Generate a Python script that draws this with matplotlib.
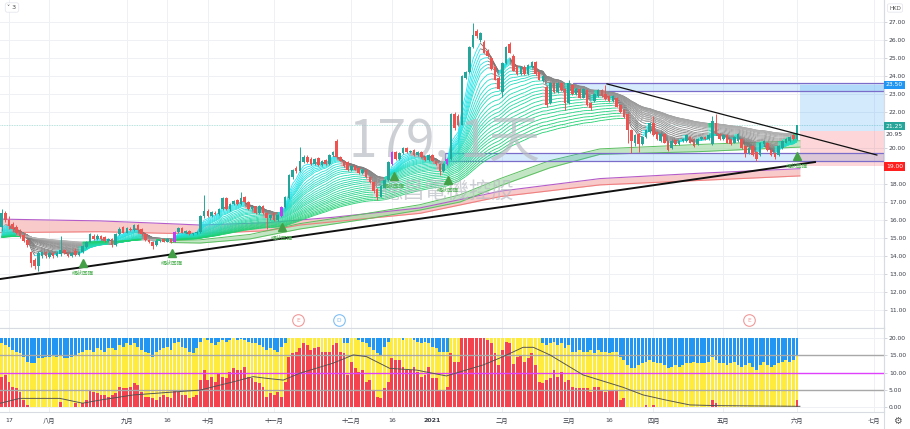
import numpy as np
import matplotlib
matplotlib.use("Agg")
import matplotlib.pyplot as plt
from matplotlib.collections import LineCollection
from matplotlib.patches import Rectangle
from matplotlib.colors import to_rgb

plt.rcParams['font.family'] = ['DejaVu Sans', 'Noto Sans CJK TC']

# ---------------- data (index 0 = 15 Jul 2020, daily bars) ----------------
opens = [15.6, 16.4,
    16.0, 15.8, 15.6, 15.45, 15.15, 14.9, 14.2, 13.8, 13.45, 14.0, 14.2,
    13.95, 14.15, 14.0, 14.1, 14.35, 14.15, 14.0, 14.3, 14.05, 14.2, 14.5, 14.8, 15.1, 14.95, 15.1, 15.05, 14.85, 14.95, 14.6, 15.2, 15.6,
    15.3, 15.5, 15.45, 15.7, 15.5, 15.2, 14.9, 14.8, 14.6, 14.85, 14.95, 14.8, 14.95, 14.8, 15.35, 15.55, 15.3, 15.4, 15.2, 15.25, 15.35, 16.2,
    16.5, 16.2, 16.4, 16.35, 16.6, 17.2, 16.6, 16.9, 17.1, 16.9, 17.3, 17.0, 16.6, 16.75, 16.4, 16.8, 16.4, 16.1,
    16.4, 16.0, 16.2, 16.7, 17.2, 18.4, 18.9, 18.7, 19.2, 19.5, 19.4, 19.1, 19.45, 19.05, 19.35, 19.1, 19.6, 20.4, 19.5, 19.3, 19.2,
    18.75, 19.0, 18.9, 18.6, 18.8, 18.4, 18.1, 17.7, 17.3, 17.8, 18.2, 19.1, 19.8, 19.4, 19.7, 20.0, 19.75, 19.9, 19.6, 19.8, 19.5, 19.35,
    19.6, 19.3, 19.1, 18.7, 19.1, 19.4, 21.9, 21.8, 21.3, 23.9, 24.2, 25.6, 26.5, 26.0, 25.9, 25.4, 25.0, 24.5, 23.9,
    23.1, 24.7, 25.8, 25.1, 24.5, 24.1, 24.5, 24.1, 24.5, 24.8, 24.2, 23.7, 23.4, 22.5, 23.6, 23.1, 23.6, 23.3,
    22.5, 23.5, 23.0, 23.3, 22.8, 23.2, 22.5, 22.6, 22.9, 23.2, 23.0, 22.9, 22.6, 22.8, 22.4, 22.1, 21.9, 21.0, 20.3, 20.8, 20.2, 20.6, 20.9,
    21.4, 20.9, 20.4, 20.8, 20.4, 20.0, 20.45, 20.2, 20.4, 20.4, 20.6, 20.5, 20.2, 20.5, 20.6, 20.5, 20.2, 21.4, 20.8,
    20.5, 20.7, 20.5, 20.3, 20.4, 20.5, 20.1, 19.7, 20.1, 19.8, 19.6, 20.2, 20.3, 19.9, 19.7, 19.6, 20.0, 20.3, 20.4, 20.7,
    20.5]
highs = [16.6, 16.5,
    16.2, 15.9, 15.7, 15.5, 15.25, 14.95, 14.3, 13.9, 14.25, 14.3, 14.3,
    14.25, 14.2, 14.25, 15.1, 14.4, 14.2, 14.2, 14.45, 14.25, 14.6, 14.85, 15.3, 15.2, 15.2, 15.15, 15.1, 15.0, 15.0, 15.25, 15.6, 15.65,
    15.6, 15.6, 15.8, 15.75, 15.55, 15.25, 14.95, 14.85, 14.9, 14.95, 15.0, 15.0, 15.0, 15.4, 15.6, 15.6, 15.45, 15.45, 15.3, 15.4, 16.3, 17.4,
    16.6, 16.5, 16.5, 16.65, 17.3, 17.25, 16.95, 17.1, 17.15, 17.57, 17.35, 17.05, 16.8, 16.8, 16.85, 16.85, 16.45, 16.35,
    16.45, 16.35, 16.75, 17.35, 18.55, 18.85, 19.0, 20.05, 19.6, 19.6, 19.5, 19.45, 19.5, 19.35, 19.4, 19.65, 19.85, 20.5, 19.55, 19.35, 19.25,
    19.05, 19.05, 18.95, 18.85, 18.85, 18.45, 18.15, 17.75, 17.95, 18.25, 19.25, 19.85, 19.85, 19.75, 20.05, 20.05, 19.9, 19.95, 19.85, 19.85, 19.55, 19.65,
    19.65, 19.35, 19.15, 19.15, 19.45, 21.95, 22.0, 21.9, 24.05, 24.3, 25.65, 26.93, 26.6, 26.45, 26.0, 25.5, 25.1, 24.6, 24.0,
    24.75, 25.65, 25.9, 25.2, 24.6, 24.55, 24.6, 24.65, 24.85, 24.85, 24.25, 24.05, 23.5, 23.65, 23.65, 23.65, 23.65, 23.35,
    23.8, 23.55, 23.35, 23.35, 23.35, 23.25, 22.55, 23.05, 23.25, 23.25, 23.5, 22.95, 22.95, 22.85, 22.45, 22.15, 21.95, 21.05, 20.75, 20.85, 20.65, 21.05, 21.45,
    21.8, 20.95, 20.85, 20.85, 20.45, 20.45, 20.5, 20.45, 20.55, 20.75, 20.65, 20.55, 20.55, 20.65, 20.65, 20.75, 21.8, 21.9, 20.85,
    20.75, 20.75, 20.55, 20.65, 20.85, 20.55, 20.15, 20.05, 20.15, 19.85, 20.35, 20.45, 20.35, 19.95, 19.75, 20.15, 20.45, 20.55, 20.65, 20.75,
    21.3]
lows = [15.4, 15.9,
    15.5, 15.4, 15.2, 15.0, 14.75, 14.5, 13.4, 13.3, 13.15, 13.9, 13.9,
    13.9, 13.9, 13.95, 14.0, 14.1, 13.95, 13.95, 14.0, 14.0, 14.15, 14.45, 14.75, 14.9, 14.9, 14.9, 14.8, 14.8, 14.5, 14.55, 15.15, 15.25,
    15.25, 15.4, 15.4, 15.4, 15.15, 14.85, 14.7, 14.4, 14.55, 14.8, 14.75, 14.75, 14.7, 14.75, 15.3, 15.25, 15.25, 15.15, 15.15, 15.2, 15.3, 16.1,
    16.15, 16.15, 16.3, 16.3, 16.55, 16.55, 16.5, 16.85, 16.85, 16.85, 16.95, 16.55, 16.55, 16.35, 16.35, 16.35, 15.5, 16.0,
    15.95, 15.95, 16.15, 16.65, 17.15, 18.3, 18.6, 18.65, 19.15, 19.15, 19.05, 19.05, 19.0, 19.0, 19.05, 19.05, 19.55, 19.45, 19.25, 18.95, 18.7,
    18.7, 18.75, 18.55, 18.55, 18.35, 18.05, 17.5, 17.1, 17.25, 17.75, 18.15, 19.05, 19.35, 19.35, 19.65, 19.7, 19.7, 19.55, 19.55, 19.45, 19.3, 19.3,
    19.25, 19.05, 18.5, 18.65, 19.05, 19.35, 21.0, 21.2, 21.25, 23.85, 24.15, 25.55, 26.1, 25.9, 25.25, 25.05, 24.35, 23.75, 23.25,
    22.85, 24.65, 25.25, 24.25, 24.05, 24.05, 24.05, 24.05, 24.45, 24.05, 23.75, 23.65, 22.3, 22.45, 23.05, 23.05, 23.15, 22.1,
    22.45, 22.95, 22.95, 22.75, 22.75, 22.35, 22.1, 22.55, 22.85, 22.85, 22.65, 22.55, 22.55, 22.25, 21.95, 21.65, 20.3, 19.7, 20.1, 19.8, 20.15, 20.55, 20.85,
    20.65, 20.45, 20.35, 20.25, 19.85, 19.95, 20.15, 20.15, 20.35, 20.35, 20.25, 20.05, 20.15, 20.45, 20.45, 20.45, 20.15, 20.75, 20.45,
    20.45, 20.25, 20.15, 20.25, 20.35, 19.95, 19.5, 19.65, 19.55, 19.3, 19.55, 20.15, 19.85, 19.55, 19.4, 19.55, 19.95, 20.25, 20.35, 20.45,
    20.45]
closes = [16.4, 16.0,
    15.65, 15.5, 15.3, 15.1, 14.85, 14.6, 13.6, 13.45, 14.15, 14.2, 14.0,
    14.15, 14.0, 14.15, 14.35, 14.15, 14.0, 14.15, 14.05, 14.2, 14.55, 14.8, 15.2, 14.95, 15.1, 14.95, 14.85, 14.95, 14.6, 15.2, 15.5, 15.3,
    15.55, 15.45, 15.7, 15.45, 15.2, 14.9, 14.75, 14.55, 14.85, 14.9, 14.8, 14.95, 14.75, 15.35, 15.55, 15.3, 15.4, 15.2, 15.25, 15.35, 16.2, 16.5,
    16.2, 16.45, 16.35, 16.6, 17.2, 16.6, 16.9, 17.05, 16.9, 17.2, 17.0, 16.6, 16.7, 16.4, 16.8, 16.4, 16.1, 16.3,
    16.0, 16.3, 16.7, 17.3, 18.5, 18.8, 18.7, 19.3, 19.5, 19.2, 19.1, 19.4, 19.05, 19.3, 19.1, 19.6, 19.8, 19.5, 19.3, 19.0, 18.75,
    19.0, 18.8, 18.6, 18.8, 18.4, 18.1, 17.6, 17.3, 17.9, 18.2, 19.2, 19.8, 19.4, 19.7, 20.0, 19.75, 19.85, 19.6, 19.8, 19.5, 19.35, 19.6,
    19.3, 19.1, 18.7, 19.1, 19.4, 21.9, 21.1, 21.3, 24.0, 24.2, 25.6, 26.3, 26.2, 26.4, 25.3, 25.1, 24.4, 23.8, 23.3,
    24.7, 25.6, 25.3, 24.3, 24.1, 24.5, 24.1, 24.6, 24.8, 24.1, 23.8, 24.0, 22.4, 23.6, 23.1, 23.6, 23.2, 22.5,
    23.6, 23.0, 23.3, 22.8, 23.3, 22.4, 22.2, 23.0, 23.2, 22.9, 22.7, 22.6, 22.9, 22.3, 22.0, 21.7, 21.0, 20.4, 20.7, 20.2, 20.6, 21.0, 21.4,
    20.7, 20.5, 20.8, 20.3, 19.9, 20.4, 20.2, 20.4, 20.5, 20.7, 20.3, 20.1, 20.5, 20.6, 20.5, 20.7, 21.5, 20.8, 20.5,
    20.7, 20.3, 20.2, 20.6, 20.8, 20.0, 19.7, 20.0, 19.6, 19.4, 20.3, 20.4, 19.9, 19.6, 19.5, 20.1, 20.4, 20.5, 20.6, 20.5,
    21.25]
signal_bars = [47, 76, 106, 121]          # purple candles

# bottom oscillator: red part (from 0 up) and blue part (from 20 down)
red_vals = [8.8, 9.3,
    7.3, 5.9, 5.4, 4.4, 2.0, 0.6, 0.1, 0.1, 0.1, 0, 0, 0, 0, 0, 1.5, 0, 0, 0, 1.1, 0,
    1.1, 2.0, 4.9, 4.4, 4.0, 3.5, 3.5, 3.0, 3.5, 4.0, 5.9, 5.4, 5.4, 5.9, 6.9, 6.4, 4.4, 3.0, 3.0, 2.5,
    2.0, 3.0, 3.5, 3.0, 2.5, 4.9, 4.4, 3.5, 3.5, 2.5, 3.0, 3.5, 7.8, 10.7, 7.8, 8.8, 7.3, 9.8, 8.8, 8.3,
    10.2, 11.2, 10.7, 10.7, 11.7, 8.8, 8.3, 7.3, 6.9, 5.9, 3.0, 4.0, 3.5, 4.4, 3.0, 7.3, 14.6, 15.6, 16.0, 17.0,
    18.5, 18.0, 16.5, 17.0, 17.5, 16.0, 16.0, 16.0, 18.0, 18.5, 16.0, 15.7, 9.3, 13.1, 11.2, 10.2, 10.7, 7.3, 7.8, 4.9,
    3.0, 2.5, 5.4, 7.3, 14.1, 13.6, 13.6, 11.7, 10.7, 10.7, 11.7, 10.2, 8.8, 9.3, 11.7, 8.3, 8.3, 4.9, 4.9, 5.9,
    15.6, 13.1, 13.1, 20, 20, 20, 20, 20, 20, 20, 19.4, 18.5, 15.6, 12.2, 16.5, 18.9, 18.5, 12.6, 14.6, 15.1,
    13.1, 14.1, 15.6, 12.2, 7.3, 6.9, 7.8, 8.3, 10.7, 8.8, 10.2, 7.3, 7.8, 5.9, 5.4, 5.4, 5.4, 5.4, 4.4, 5.9,
    5.9, 4.9, 4.4, 4.9, 4.9, 4.9, 2.0, 2.5, 0, 0, 0, 0, 0, 0.6, 0, 0.6, 0, 0, 0, 0,
    0, 0, 0, 0, 0, 0, 0, 0, 0, 0, 0, 2.0, 1.1, 0, 0, 0, 0, 0, 0, 0,
    0, 0, 0, 0, 0, 0, 0, 0, 0, 0, 0, 0, 0, 0, 2.0]
blue_vals = [1.5, 2.0,
    2.5, 3.5, 4.0, 4.4, 5.4, 6.9, 7.3, 7.3, 5.9, 5.9, 5.4, 5.4, 4.9, 5.4, 4.9, 5.9, 5.9, 5.4, 4.9, 4.4,
    4.0, 3.5, 3.5, 4.0, 3.0, 3.5, 4.0, 3.0, 3.0, 3.5, 2.0, 2.5, 1.5, 2.0, 1.5, 2.5, 3.5, 4.0, 4.4, 5.4,
    4.0, 3.5, 3.0, 2.5, 3.5, 1.5, 1.1, 2.5, 3.0, 4.0, 4.4, 3.0, 1.1, 0.1, 0.6, 1.5, 2.0, 1.1, 0.6, 1.1,
    0.6, 0.1, 0.6, 0.4, 0.6, 1.1, 1.5, 1.5, 2.0, 2.5, 3.5, 3.0, 3.5, 4.0, 2.5, 1.5, 0, 0, 0, 0,
    0, 0, 0, 0, 0, 0, 0, 0, 0, 0, 0, 1.5, 1.5, 0, 0, 0.6, 1.1, 1.5, 2.5, 3.5,
    4.4, 4.9, 2.5, 1.1, 0, 0, 0, 0.6, 0.1, 0.1, 0.6, 1.1, 1.5, 1.1, 1.5, 2.5, 3.0, 4.0, 4.0, 4.0,
    0, 0, 0, 0, 0, 0, 0, 0, 0, 0, 0, 0, 0, 0, 0, 0, 0, 0, 0, 0,
    0, 0, 0, 0, 0, 1.5, 2.0, 1.5, 1.1, 2.0, 1.5, 3.0, 2.0, 4.0, 4.0, 3.5, 4.0, 4.0, 3.5, 4.4,
    3.5, 4.0, 4.0, 4.4, 4.0, 4.0, 5.4, 6.4, 7.8, 8.8, 8.8, 7.8, 7.3, 6.9, 6.4, 6.9, 7.3, 7.3, 7.8, 8.8,
    8.3, 7.8, 8.3, 7.8, 7.3, 7.3, 6.9, 7.3, 7.3, 7.3, 6.9, 5.4, 6.4, 7.3, 7.3, 7.8, 7.3, 6.9, 7.8, 8.3,
    7.8, 7.3, 8.3, 9.3, 7.8, 6.9, 7.8, 8.3, 7.8, 7.3, 6.9, 6.4, 6.9, 6.4, 4.9]
osc_line_pos = [-0.4, 5, 15.8, 22, 26.7, 35.8, 44.8, 53.9, 62.9, 68.3, 72, 76.5, 81, 90, 95.5, 99.1,
                105.4, 112.7, 120.8, 130.8, 136.2, 141.6, 144.4, 148.9, 153.4, 157.9, 165.2, 168.8,
                174.2, 180.5, 186.9, 194.1, 216.8]
osc_line_val = [1.1, 2.5, 2.5, 1.1, 2.0, 3.5, 4.2, 4.9, 7.3, 8.8, 8.3, 7.8, 9.8, 12.7, 15.1, 14.6,
                11.2, 10.7, 9.0, 12.2, 14.6, 17.3, 17.3, 15.1, 12.2, 9.3, 6.9, 5.7,
                3.5, 2.0, 0.6, 0.4, 0.2]

# long-term bands
band_pos = [-0.44, 26.7, 44.9, 53.9, 72.1, 81.0, 90.0, 113.6, 135.4, 162.5, 189.7, 216.8]
pink_top = [16.05, 15.95, 15.8, 15.72, 15.85, 16.0, 16.15, 16.67, 17.6, 18.3, 18.6, 18.85]
pink_bot = [15.3, 15.35, 15.26, 15.25, 15.4, 15.72, 15.9, 16.37, 17.3, 17.95, 18.2, 18.45]
green_pos = [45.7, 53.9, 67.5, 81.0, 97.3, 113.6, 124.5, 135.4, 148.9, 162.5, 189.7, 216.8]
green_top = [14.85, 14.9, 15.2, 15.8, 16.3, 16.85, 17.4, 18.3, 19.3, 19.95, 20.2, 20.4]
green_bot = [14.75, 14.72, 14.95, 15.5, 16.0, 16.55, 17.0, 17.9, 18.9, 19.65, 19.8, 20.05]
ribbon_start = 15.0
ribbon_spans = [4, 5, 6, 7, 8, 9, 10, 12, 14, 16, 18, 20, 22, 25, 28, 31, 34, 37, 40, 44, 48,
                52, 56, 60, 65, 70, 75, 80, 85]

tri_pos = [22.1, 46.3, 76.2, 106.6, 121.3, 215.9]
tri_price = [13.61, 14.17, 15.6, 18.44, 18.22, 19.56]
event_pos = [80.5, 91.6, 203.0]
event_txt = ['E', 'D', 'E']

tick_pos = [2, 13, 34, 45, 56, 74, 95, 106, 117, 136, 154, 165, 177, 196, 216, 237]
tick_lab = ['17', '八月', '九月', '16', '十月', '十一月', '十二月', '16', '2021', '二月', '三月', '16',
            '四月', '五月', '六月', '七月']
price_ticks = [11, 12, 13, 14, 15, 16, 17, 18, 20, 22, 23, 24, 25, 26, 27]

# ---------------- figure ----------------
W, H = 910, 429
fig = plt.figure(figsize=(W / 100, H / 100), dpi=100)
def rect(x0, y0, x1, y1):
    return [x0 / W, 1 - y1 / H, (x1 - x0) / W, (y1 - y0) / H]
ax = fig.add_axes(rect(0, 0, 884, 328))
axb = fig.add_axes(rect(0, 328, 884, 412), sharex=ax)

n = len(closes)
x = np.arange(n)
O, Hh, L, C = map(np.array, (opens, highs, lows, closes))
XMIN, XMAX = -0.44, 239.64
ax.set_xlim(XMIN, XMAX)
ax.set_ylim(10.0, 28.222)
axb.set_ylim(-1.45, 22.9)

gridc = '#eef0f4'
for a in (ax, axb):
    for s in ('top', 'left'):
        a.spines[s].set_visible(False)
    for s in ('right', 'bottom'):
        a.spines[s].set_color('#d8dbe2')
        a.spines[s].set_linewidth(0.8)
    a.yaxis.tick_right()
    a.tick_params(axis='y', length=2, width=0.5, color='#c0c3ca', labelsize=4.3,
                  labelcolor='#3a3e48', pad=1.5)
    a.set_xticks(tick_pos)
    a.grid(True, color=gridc, lw=0.7, zorder=0)
    a.set_axisbelow(True)
axb.spines['top'].set_visible(True)
axb.spines['top'].set_color('#d8dbe2')
ax.tick_params(axis='x', length=0, labelbottom=False)
axb.tick_params(axis='x', length=0, labelsize=4.5, labelcolor='#3a3e48', pad=4)
axb.set_xticklabels(tick_lab)
for t in axb.get_xticklabels():
    if t.get_text() == '2021':
        t.set_fontweight('bold')
ax.set_yticks(price_ticks)
ax.set_yticklabels([f'{v:.2f}' for v in price_ticks])
axb.set_yticks([0, 5, 10, 15, 20])
axb.set_yticklabels([f'{v:.2f}' for v in [0, 5, 10, 15, 20]])

# long term bands
ax.fill_between(band_pos, pink_bot, pink_top, color='#f6b9b9', alpha=0.75, lw=0, zorder=1)
ax.plot(band_pos, pink_top, color='#b45cc8', lw=0.8, zorder=1.2)
ax.plot(band_pos, pink_bot, color='#f08080', lw=0.8, zorder=1.2)
ax.fill_between(green_pos, green_bot, green_top, color='#a8dcaa', alpha=0.7, lw=0, zorder=1.1)
ax.plot(green_pos, green_top, color='#5cbf60', lw=0.7, zorder=1.2)
ax.plot(green_pos, green_bot, color='#5cbf60', lw=0.7, zorder=1.2)

# rectangles and position tool
rc = '#7a6cc8'
ax.add_patch(Rectangle((155.2, 23.19), XMAX - 155.2, 0.40, fc='#2196f3', alpha=0.18, ec='none', zorder=1.3))
ax.add_patch(Rectangle((155.2, 23.19), XMAX - 155.2, 0.40, fc='none', ec=rc, lw=0.9, zorder=1.4))
ax.add_patch(Rectangle((120.4, 19.3), XMAX - 120.4, 0.42, fc='#2196f3', alpha=0.18, ec='none', zorder=1.3))
ax.add_patch(Rectangle((120.4, 19.3), XMAX - 120.4, 0.42, fc='none', ec=rc, lw=0.9, zorder=1.4))
ax.add_patch(Rectangle((216.8, 20.95), XMAX - 216.8, 23.5 - 20.95, fc='#2196f3', alpha=0.2, ec='none', zorder=1.3))
ax.add_patch(Rectangle((216.8, 19.0), XMAX - 216.8, 20.95 - 19.0, fc='#f23645', alpha=0.2, ec='none', zorder=1.3))
ax.axhline(21.25, color='#9fd8d2', lw=0.6, ls=(0, (1, 1)), zorder=1.2)

# EMA ribbon
spans = ribbon_spans
c_fast, c_slow = np.array(to_rgb('#22e6f5')), np.array(to_rgb('#1fcf6e'))
g_fast, g_slow = np.array(to_rgb('#6e6e6e')), np.array(to_rgb('#b4b4b4'))
b_fast, b_slow = np.array(to_rgb('#1010ff')), np.array(to_rgb('#7a7aff'))
orange = np.array(to_rgb('#ffa21a'))
segs, cols = [], []
for k, s in enumerate(spans):
    a = 2.0 / (s + 1)
    e = np.empty(n)
    prev = ribbon_start
    for i in range(n):
        prev = prev + a * (C[i] - prev)
        e[i] = prev
    f = k / (len(spans) - 1)
    for t in range(1, n):
        rising = e[t] > e[t - 1]
        above = C[t] > e[t]
        if rising and above:
            col = c_fast * (1 - f) + c_slow * f
        elif (not rising) and (not above):
            col = g_fast * (1 - f) + g_slow * f
        elif (not rising) and above:
            col = b_fast * (1 - f) + b_slow * f
        else:
            col = orange
        segs.append([(t - 1, e[t - 1]), (t, e[t])])
        cols.append(col)
ax.add_collection(LineCollection(segs, colors=cols, linewidths=0.6, zorder=2))

# watermark
ax.text((445 - 9) / 3.682 + 2, 27 - (141 - 22) / 18, '179, 1天', fontsize=37,
        family=['Liberation Sans Narrow', 'Noto Sans CJK TC'], color='#b9bcc3', alpha=0.7,
        ha='center', va='center', zorder=3)
ax.text((447 - 9) / 3.682 + 2, 27 - (192 - 22) / 18, '德昌電機控股', fontsize=16,
        family=['Noto Sans CJK TC'], color='#b9bcc3', alpha=0.7, ha='center', va='center', zorder=3)

# candles
up_c, dn_c, sig_c = '#26a69a', '#ef5350', '#c13ef0'
colors = [up_c if c >= o else dn_c for o, c in zip(O, C)]
for i in signal_bars:
    colors[i] = sig_c
ax.vlines(x, L, Hh, colors=colors, lw=0.7, zorder=4)
body = np.maximum(np.abs(C - O), 0.04)
ax.bar(x, body, bottom=np.minimum(O, C), width=0.7, color=colors, lw=0, zorder=4.1)

# trend lines
ax.plot([-0.44, 220.9], [12.72, 19.22], color='#111111', lw=1.4, zorder=5)
ax.plot([164.4, 237.7], [23.56, 19.61], color='#111111', lw=0.9, zorder=5)

# signal triangles + labels
ax.plot(tri_pos, tri_price, ls='none', marker='^', ms=5.5, color='#43a047', zorder=6)
for p, v in zip(tri_pos, tri_price):
    ax.text(p, v - 0.6, '網狀回彈', fontsize=4.0, color='#4caf50', ha='center', va='center',
            family=['Noto Sans CJK TC'], zorder=6)

# earnings/dividend markers
for p, t in zip(event_pos, event_txt):
    ec = '#f19a9a' if t == 'E' else '#7fbff5'
    ax.scatter([p], [10.44], s=70, facecolor='white', edgecolor=ec, lw=0.8, zorder=6, clip_on=False)
    ax.text(p, 10.44, t, fontsize=4.2, color=ec, ha='center', va='center', zorder=7)

# bottom oscillator
red = np.array(red_vals); blue = np.array(blue_vals)
yel_top = 20 - blue
axb.bar(x, red, width=0.78, color='#f5424f', lw=0, zorder=2)
axb.bar(x, yel_top - red, bottom=red, width=0.78, color='#ffeb3b', lw=0, zorder=2)
axb.bar(x, blue, bottom=yel_top, width=0.78, color='#2196f3', lw=0, zorder=2)
axb.axhline(15, color='#a8a8a8', lw=1.0, zorder=3)
axb.axhline(5, color='#a8a8a8', lw=1.0, zorder=3)
axb.axhline(10, color='#e040fb', lw=1.0, zorder=3)
axb.plot(osc_line_pos, osc_line_val, color='#555555', lw=0.7, zorder=4)

# price labels on axis
def plabel(ypx, txt, fc, tc='white'):
    fig.text(886 / W, 1 - ypx / H, txt, fontsize=4.3, color=tc, ha='left', va='center',
             bbox=dict(boxstyle='square,pad=0.3', fc=fc, ec='none') if fc else None)
plabel(85, '23.50', '#2196f3')
plabel(126, '21.25', '#26a69a')
plabel(135, '20.95', None, '#3a3e48')
plabel(166.5, '19.00', '#ff1f1f')
fig.text(895 / W, 1 - 8 / H, 'HKD', fontsize=4.0, color='#555', ha='center', va='center',
         bbox=dict(boxstyle='round,pad=0.3', fc='white', ec='#e0e3eb', lw=0.5))
fig.text(12 / W, 1 - 7.5 / H, '˅ 3', fontsize=4.5, color='#444', ha='center', va='center',
         bbox=dict(boxstyle='round,pad=0.35', fc='white', ec='#e0e3eb', lw=0.5))
fig.text(897 / W, 1 - 421 / H, '⚙', fontsize=7, color='#555', ha='center', va='center')
fig.add_artist(plt.Line2D([884 / W, 884 / W], [0, 1], color='#d8dbe2', lw=0.8))

fig.savefig('out.png', dpi=100, facecolor='white')
